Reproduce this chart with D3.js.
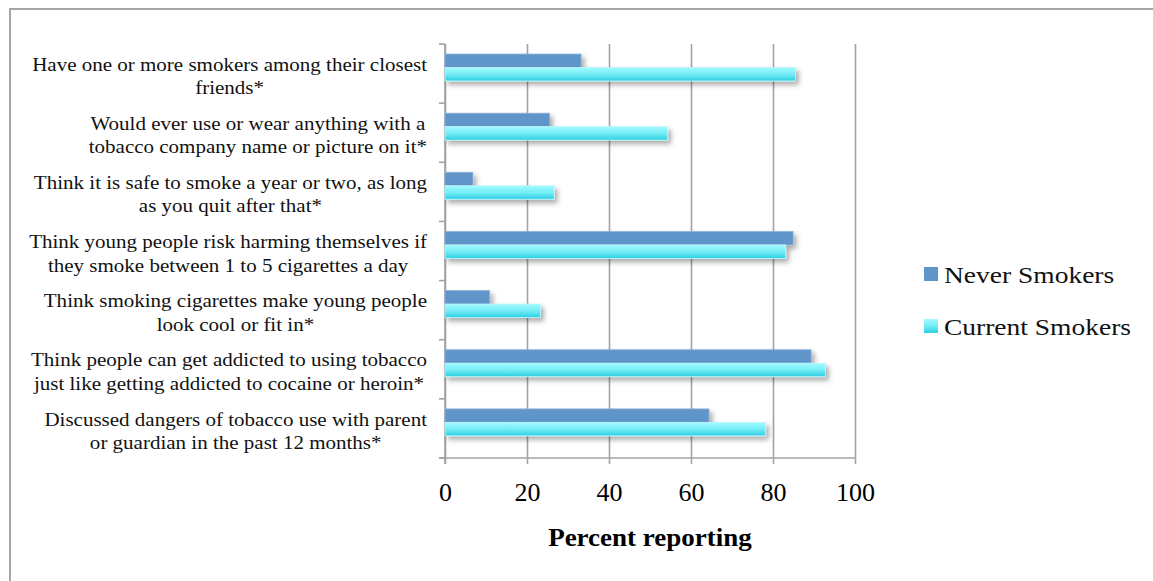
<!DOCTYPE html>
<html>
<head>
<meta charset="utf-8">
<script src="https://cdn.jsdelivr.net/npm/d3@7/dist/d3.min.js"></script>
<style>
  html, body { margin: 0; padding: 0; background: #fff; }
  svg { display: block; }
  svg text { font-family: "Liberation Serif", "Times New Roman", serif; }
</style>
</head>
<body>
<svg id="chart" width="1153" height="581"></svg>
<script>
// Survey items, top to bottom, with their two-line labels
const categories = [
  ["Have one or more smokers among their closest", "friends*"],
  ["Would ever use or wear anything with a", "tobacco company name or picture on it*"],
  ["Think it is safe to smoke a year or two, as long", "as you quit after that*"],
  ["Think young people risk harming themselves if", "they smoke between 1 to 5 cigarettes a day"],
  ["Think smoking cigarettes make young people", "look cool or fit in*"],
  ["Think people can get addicted to using tobacco", "just like getting addicted to cocaine or heroin*"],
  ["Discussed dangers of tobacco use with parent", "or guardian in the past 12 months*"]
];
const seriesNames = ["Never Smokers", "Current Smokers"];
const neverSmokers   = [33.2, 25.5, 6.8, 84.9, 10.9, 89.3, 64.4];
const currentSmokers = [85.5, 54.3, 26.6, 83.1, 23.3, 92.8, 78.2];
const xTicks = [0, 20, 40, 60, 80, 100];
const xTitle = "Percent reporting";

const FONT = "Liberation Serif, Times New Roman, serif";
const svg = d3.select("#chart");
const W = 1153, H = 581;

// Widen a text element's glyphs by a factor (the typeface in use is a wide book face)
function stretch(sel, factor) {
  sel.each(function () {
    const w = this.getComputedTextLength();
    d3.select(this).attr("textLength", w * factor).attr("lengthAdjust", "spacingAndGlyphs");
  });
}

// Outer frame
svg.append("rect")
  .attr("x", 10).attr("y", 9).attr("width", W + 10).attr("height", H + 10)
  .attr("fill", "#fff").attr("stroke", "#a6a6a6").attr("stroke-width", 2);

const defs = svg.append("defs");
const grad = defs.append("linearGradient").attr("id", "cyanGrad")
  .attr("x1", 0).attr("y1", 0).attr("x2", 0).attr("y2", 1);
grad.append("stop").attr("offset", "0%").attr("stop-color", "#a0fbff");
grad.append("stop").attr("offset", "50%").attr("stop-color", "#76ecf6");
grad.append("stop").attr("offset", "100%").attr("stop-color", "#2bcfe2");

const shadow = defs.append("filter").attr("id", "barShadow")
  .attr("x", "-5%").attr("y", "-40%").attr("width", "115%").attr("height", "200%");
shadow.append("feDropShadow")
  .attr("dx", 3).attr("dy", 3.5).attr("stdDeviation", 2.6)
  .attr("flood-color", "#000").attr("flood-opacity", 0.33);

const plotLeft = 445, plotRight = 855, plotTop = 44, plotBottom = 458;

const x = d3.scaleLinear().domain([0, 100]).range([plotLeft, plotRight]);
const y = d3.scaleBand().domain(d3.range(categories.length)).range([plotTop, plotBottom]).padding(0);
const ySeries = d3.scaleBand().domain(seriesNames)
  .range([y.bandwidth() * 0.17, y.bandwidth() * 0.625]).padding(0);

// Vertical gridlines with bottom ticks and labels
const xAxis = svg.append("g")
  .attr("transform", `translate(0,${plotBottom})`)
  .call(d3.axisBottom(x).tickValues(xTicks).tickSize(-(plotBottom - plotTop)).tickSizeOuter(0).tickPadding(25));
xAxis.attr("font-family", FONT);
xAxis.select(".domain").remove();
xAxis.selectAll(".tick line").attr("stroke", "#a3a3a3").attr("stroke-width", 1.6);
xAxis.selectAll(".tick text").attr("fill", "#000").attr("font-size", 26).attr("dy", "0.71em");
// short outward tick marks below the axis
xAxis.selectAll(".tick").append("line")
  .attr("y1", 0).attr("y2", 6).attr("stroke", "#a3a3a3").attr("stroke-width", 1.6);

// Bottom axis line
svg.append("line")
  .attr("x1", plotLeft - 6).attr("x2", plotRight).attr("y1", plotBottom).attr("y2", plotBottom)
  .attr("stroke", "#a3a3a3").attr("stroke-width", 1.6);

// Left axis line with ticks at category boundaries
svg.append("line")
  .attr("x1", plotLeft).attr("x2", plotLeft).attr("y1", plotTop).attr("y2", plotBottom + 6)
  .attr("stroke", "#a3a3a3").attr("stroke-width", 1.6);
svg.append("g").selectAll("line")
  .data(d3.range(categories.length + 1))
  .join("line")
  .attr("x1", plotLeft - 6).attr("x2", plotLeft)
  .attr("y1", i => i < categories.length ? y(i) : plotBottom)
  .attr("y2", i => i < categories.length ? y(i) : plotBottom)
  .attr("stroke", "#a3a3a3").attr("stroke-width", 1.6);

// Bars
const seriesData = [
  { name: seriesNames[0], values: neverSmokers, fill: "#6095c9", stroke: "#8db3dc" },
  { name: seriesNames[1], values: currentSmokers, fill: "url(#cyanGrad)", stroke: "#bff6fb" }
];
const barGroup = svg.append("g");
seriesData.forEach(s => {
  barGroup.append("g").attr("filter", "url(#barShadow)")
    .selectAll("rect")
    .data(s.values)
    .join("rect")
    .attr("x", x(0))
    .attr("y", (d, i) => y(i) + ySeries(s.name))
    .attr("width", d => x(d) - x(0))
    .attr("height", ySeries.bandwidth())
    .attr("fill", s.fill)
    .attr("stroke", s.stroke).attr("stroke-width", 0.8);
});

// Category labels: lines centred on each other, block right edge near the axis
const labelGroup = svg.append("g");
categories.forEach((lines, i) => {
  const cy = y(i) + y.bandwidth() / 2 + 2;
  const lh = 23.5;
  const texts = lines.map((ln, k) => labelGroup.append("text")
    .attr("font-family", FONT).attr("font-size", 19.5).attr("fill", "#111")
    .attr("text-anchor", "middle")
    .attr("y", cy + (k - (lines.length - 1) / 2) * lh)
    .attr("dy", "0.35em").text(ln));
  texts.forEach(t => stretch(t, 1.077));
  const maxW = d3.max(texts.map(t => +t.attr("textLength")));
  texts.forEach(t => t.attr("x", 427 - maxW / 2));
});

// Axis title
svg.append("text")
  .attr("font-family", FONT)
  .attr("x", (plotLeft + plotRight) / 2).attr("y", 537).attr("dy", "0.35em")
  .attr("text-anchor", "middle").attr("font-weight", "bold").attr("font-size", 25)
  .attr("fill", "#000").text(xTitle)
  .call(stretch, 1.08);

// Legend
const legend = svg.append("g");
const legendColors = ["#6095c9", "url(#cyanGrad)"];
seriesNames.forEach((name, i) => {
  const ly = 274 + i * 52;
  legend.append("rect")
    .attr("x", 924).attr("y", ly - 7).attr("width", 14).attr("height", 14)
    .attr("fill", legendColors[i]);
  legend.append("text")
    .attr("font-family", FONT)
    .attr("x", 944).attr("y", ly + 1).attr("dy", "0.35em")
    .attr("font-size", 24).attr("fill", "#111").text(name)
    .call(stretch, 1.145);
});
</script>
</body>
</html>
